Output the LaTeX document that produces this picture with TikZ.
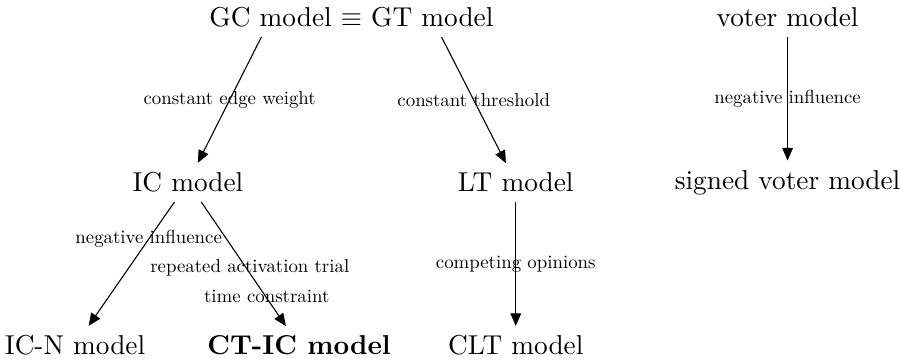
\documentclass[tikz,border=0pt]{standalone}
\usetikzlibrary{arrows.meta}

\tikzset{
  model/.style={inner sep=3.33pt},
  lbl/.style={transform shape, scale=0.69, inner sep=1pt},
  arr/.style={-{Triangle[length=4.6pt,width=3.9pt]}},
}

\begin{document}
\begin{tikzpicture}[x=1mm,y=1mm]
  \useasboundingbox (0,0) rectangle (116,46.73);

  % top row
  \node[model] (gcgt) at (45.25,44.48) {GC model $\equiv$ GT model};
  \node[model] (voter) at (101.4,44.48) {voter model};

  % middle row
  \node[model] (ic) at (24.2,23.24) {IC model};
  \node[model] (lt) at (66.4,23.24) {LT model};
  \node[model] (svoter) at (101.4,23.24) {signed voter model};

  % bottom row
  \node[model] (icn) at (9.66,2.25) {IC-N model};
  \node[model] (ctic) at (38.5,2.25) {\textbf{CT-IC model}};
  \node[model] (clt) at (66.4,2.25) {CLT model};

  % arrows
  \draw[arr] ([xshift=-33pt]gcgt.south) -- (ic)
    node[lbl,midway] (cew) {constant edge weight};
  \draw[arr] ([xshift=33pt]gcgt.south) -- (lt)
    node[lbl,midway] (cth) {constant threshold};
  \draw[arr] (voter) -- (svoter)
    node[lbl,midway] (negv) {negative influence};
  \draw[arr] (ic) -- (icn)
    node[lbl,pos=0.3] (negi) {negative influence};
  \draw[arr] (ic) -- (ctic)
    node[lbl,pos=0.64,xshift=-3pt,align=center] (rat) {repeated activation trial\\[4pt]\hspace*{18pt}time constraint};
  \draw[arr] (lt) -- (clt)
    node[lbl,midway] (cop) {competing opinions};
\end{tikzpicture}
\end{document}
